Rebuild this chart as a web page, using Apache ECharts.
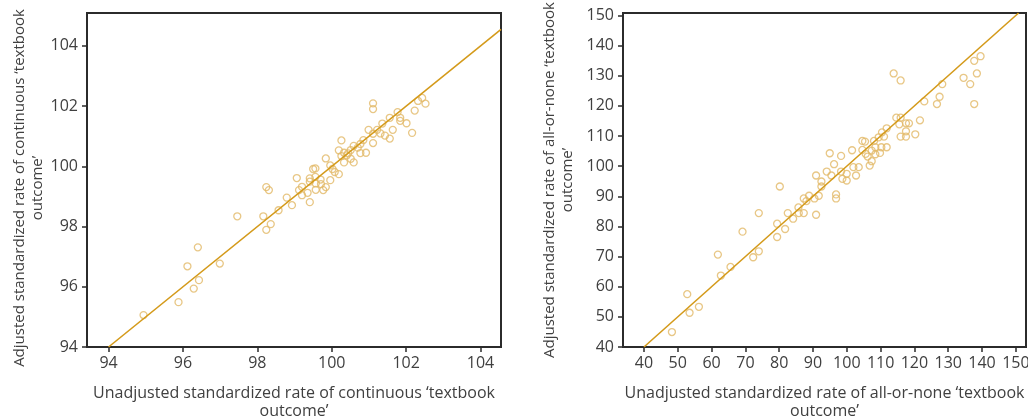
<!DOCTYPE html>
<html>
<head>
<meta charset="utf-8">
<script src="https://cdn.jsdelivr.net/npm/echarts@6/dist/echarts.min.js"></script>
<style>
  html, body { margin: 0; padding: 0; background: #fff; }
  #chart { width: 1028px; height: 418px; }
</style>
</head>
<body>
<div id="chart"></div>
<script>
// continuous textbook outcome: unadjusted (x) vs adjusted (y)
const contX = [94.94, 95.88, 96.12, 96.29, 96.40, 96.43, 96.99, 97.46, 98.16, 98.24, 98.31, 98.24, 98.36, 98.57, 98.79, 98.93,
  99.06, 99.12, 99.20, 99.20, 99.35, 99.41, 99.41, 99.41, 99.50, 99.56, 99.56, 99.57, 99.57, 99.70, 99.71, 99.77, 99.84, 99.84,
  99.96, 99.96, 100.02, 100.08, 100.19, 100.19, 100.26, 100.26, 100.33, 100.33, 100.40, 100.44, 100.51, 100.59, 100.59, 100.51,
  100.70, 100.77, 100.77, 100.85, 100.92, 100.99, 101.11, 101.11, 101.11, 101.11, 101.22, 101.31, 101.36, 101.43, 101.56, 101.56,
  101.64, 101.77, 101.84, 101.84, 102.01, 102.16, 102.23, 102.32, 102.43, 102.52];
const contY = [95.06, 95.49, 96.68, 95.94, 97.31, 96.22, 96.77, 98.34, 98.34, 99.31, 99.21, 97.89, 98.08, 98.54, 98.96, 98.71,
  99.61, 99.21, 99.32, 99.04, 99.12, 98.81, 99.60, 99.49, 99.91, 99.93, 99.65, 99.43, 99.22, 99.56, 99.41, 99.21, 99.31, 100.26,
  100.03, 99.54, 99.91, 99.81, 99.74, 100.53, 100.86, 100.34, 100.45, 100.13, 100.36, 100.43, 100.54, 100.68, 100.13, 100.25,
  100.62, 100.44, 100.74, 100.87, 100.45, 101.21, 101.08, 100.77, 102.09, 101.90, 101.21, 101.09, 101.42, 101.02, 101.61, 100.92,
  101.21, 101.80, 101.61, 101.51, 101.43, 101.11, 101.85, 102.17, 102.27, 102.08];

// all-or-none textbook outcome
const allX = [48.27, 52.80, 53.49, 56.25, 61.86, 62.75, 65.60, 69.15, 72.30, 73.97, 73.97, 79.39, 79.39, 80.18, 81.75, 82.54,
  84.12, 85.69, 85.79, 87.27, 87.27, 88.05, 88.84, 90.42, 90.91, 90.91, 91.70, 92.49, 92.49, 94.06, 94.95, 95.44, 96.23, 96.82,
  96.82, 98.30, 98.30, 98.69, 99.97, 99.97, 101.55, 101.94, 102.73, 103.52, 104.60, 104.60, 105.39, 105.58, 106.17, 106.77,
  107.36, 107.36, 108.04, 108.44, 108.44, 109.42, 109.82, 110.21, 110.41, 111.00, 111.79, 111.79, 113.86, 114.64, 115.53,
  115.92, 115.92, 115.92, 117.50, 117.50, 117.50, 118.38, 120.25, 121.63, 122.91, 126.66, 127.44, 128.23, 134.53, 136.50,
  137.68, 137.68, 138.47, 139.56];
const allY = [44.96, 57.53, 51.36, 53.34, 70.65, 63.70, 66.57, 78.26, 69.77, 71.75, 84.43, 80.90, 76.49, 93.25, 79.14, 84.43,
  82.56, 86.31, 84.43, 84.43, 89.28, 88.40, 90.17, 89.28, 83.88, 96.89, 90.17, 93.25, 94.91, 98.21, 104.28, 96.89, 100.64, 90.61,
  89.28, 103.40, 98.21, 95.79, 97.44, 95.24, 105.27, 99.65, 96.89, 99.65, 108.36, 105.38, 108.14, 104.06, 103.18, 100.20,
  101.63, 105.16, 108.36, 106.26, 103.95, 109.57, 104.39, 106.26, 111.22, 109.79, 112.55, 106.26, 130.74, 116.08, 113.87,
  128.42, 116.08, 109.79, 114.20, 111.56, 109.79, 114.20, 110.56, 115.19, 121.48, 120.60, 123.02, 127.21, 129.31, 127.21,
  134.93, 120.60, 130.74, 136.47];

// identity (y = x) reference lines
const contLine = [94, 104.55];
const allLine = [40, 150.8];

// tick labels
const contTicks = [94, 96, 98, 100, 102, 104];
const allTicks = [40, 50, 60, 70, 80, 90, 100, 110, 120, 130, 140, 150];

const textColor = "#404040";
const axisColor = "#2b2b2b";
const pointColor = "#e2b968";
const lineColor = "#d49a1a";
const font = "Open Sans";

function pairs(xs, ys) {
  return xs.map((x, i) => [x, ys[i]]);
}

function makeAxis(type, gridIndex, min, max, ticks, name, nameGap, namePadding) {
  return {
    type: "value",
    gridIndex,
    min,
    max,
    name,
    nameLocation: "middle",
    nameGap,
    nameTextStyle: {
      color: textColor,
      fontSize: type === "x" ? 16 : 15,
      fontFamily: font,
      lineHeight: 18,
      padding: namePadding || 0,
    },
    axisLine: { show: true, onZero: false, lineStyle: { color: axisColor, width: 2 } },
    axisTick: { show: true, length: 5, lineStyle: { color: axisColor, width: 1.5 }, customValues: ticks },
    axisLabel: {
      color: textColor,
      fontSize: 16,
      fontFamily: font,
      margin: type === "x" ? 8 : 9,
      customValues: ticks,
    },
    splitLine: { show: false },
  };
}

const chart = echarts.init(document.getElementById("chart"), null, { renderer: "canvas" });

chart.setOption({
  animation: false,
  backgroundColor: "#fff",
  grid: [
    { left: 87, top: 13, width: 414, height: 334, outerBoundsMode: "none", show: true, borderColor: axisColor, borderWidth: 2 },
    { left: 623, top: 13, width: 403, height: 334, outerBoundsMode: "none", show: true, borderColor: axisColor, borderWidth: 2 },
  ],
  xAxis: [
    makeAxis("x", 0, 93.42, 104.55, contTicks, "Unadjusted standardized rate of continuous \u2018textbook\noutcome\u2019", 37),
    makeAxis("x", 1, 33.8, 153, allTicks, "Unadjusted standardized rate of all-or-none \u2018textbook\noutcome\u2019", 37),
  ],
  yAxis: [
    makeAxis("y", 0, 94, 105.09, contTicks, "Adjusted standardized rate of continuous \u2018textbook\noutcome\u2019", 38, [0, 16, 0, 0]),
    makeAxis("y", 1, 40, 150.8, allTicks, "Adjusted standardized rate of all-or-none \u2018textbook\noutcome\u2019", 46),
  ],
  series: [
    {
      type: "line",
      xAxisIndex: 0,
      yAxisIndex: 0,
      data: pairs(contLine, contLine),
      showSymbol: false,
      lineStyle: { color: lineColor, width: 1.6 },
      z: 3,
    },
    {
      type: "scatter",
      xAxisIndex: 0,
      yAxisIndex: 0,
      data: pairs(contX, contY),
      symbol: "circle",
      symbolSize: 7,
      itemStyle: { color: "rgba(255,255,255,0)", borderColor: pointColor, borderWidth: 1.3 },
      z: 2,
    },
    {
      type: "line",
      xAxisIndex: 1,
      yAxisIndex: 1,
      data: pairs(allLine, allLine),
      showSymbol: false,
      lineStyle: { color: lineColor, width: 1.6 },
      z: 3,
    },
    {
      type: "scatter",
      xAxisIndex: 1,
      yAxisIndex: 1,
      data: pairs(allX, allY),
      symbol: "circle",
      symbolSize: 7,
      itemStyle: { color: "rgba(255,255,255,0)", borderColor: pointColor, borderWidth: 1.3 },
      z: 2,
    },
  ],
});
</script>
</body>
</html>
